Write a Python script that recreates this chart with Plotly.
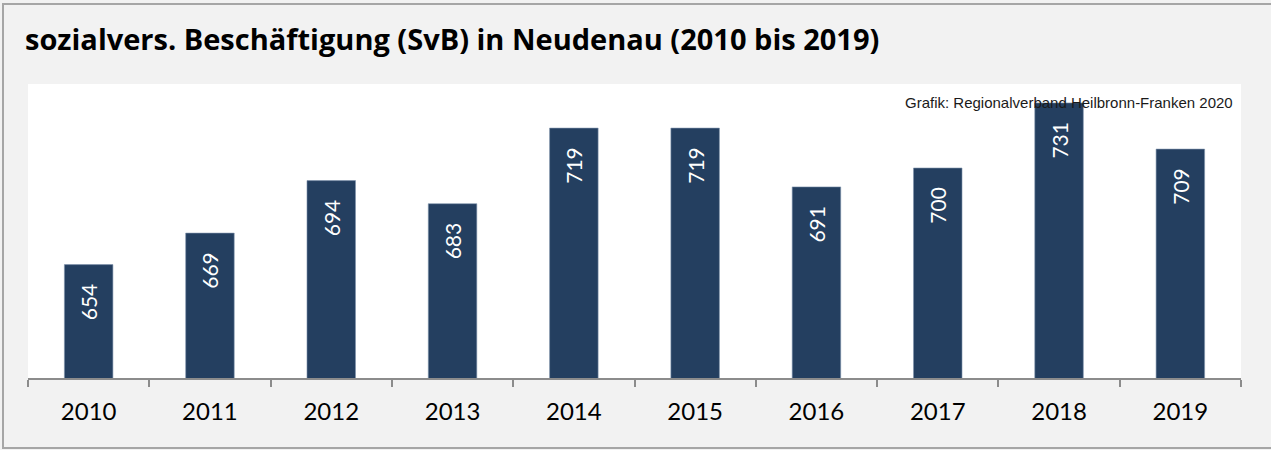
import plotly.graph_objects as go

years = ["2010", "2011", "2012", "2013", "2014", "2015", "2016", "2017", "2018", "2019"]
employees = [654, 669, 694, 683, 719, 719, 691, 700, 731, 709]

title_text = "sozialvers. Beschäftigung (SvB) in Neudenau (2010 bis 2019)"
source_text = "Grafik: Regionalverband Heilbronn-Franken 2020"

W, H = 1271, 450
ML, MR, MT, MB = 28, 30, 84, 72
pw = W - ML - MR
ph = H - MT - MB

def px_x(p):
    return (p - ML) / pw

def px_y(p):
    return (H - MB - p) / ph

fig = go.Figure()
fig.add_trace(go.Bar(
    x=years,
    y=employees,
    marker=dict(color="#243f60", line=dict(color="#7f93ad", width=0.6)),
    texttemplate="%{y}\u00a0\u00a0\u00a0",
    textposition="inside",
    insidetextanchor="end",
    textangle=-90,
    constraintext="none",
    textfont=dict(family="Lato", size=21, color="white"),
    hoverinfo="skip",
))

fig.update_layout(
    width=W, height=H,
    margin=dict(l=ML, r=MR, t=MT, b=MB, pad=0),
    paper_bgcolor="#f2f2f2",
    plot_bgcolor="white",
    bargap=0.6,
    showlegend=False,
    xaxis=dict(
        type="category",
        showline=True, linecolor="#8c8c8c", linewidth=2,
        ticks="outside", tickson="boundaries", ticklen=7, tickwidth=2, tickcolor="#8c8c8c",
        tickfont=dict(family="Lato", size=24, color="black"),
        ticklabelstandoff=11,
        showgrid=False, zeroline=False,
    ),
    yaxis=dict(
        range=[600, 740], visible=False, showgrid=False, zeroline=False,
    ),
    annotations=[
        dict(text="<b>" + title_text + "</b>", xref="paper", yref="paper",
             x=px_x(23), y=px_y(38), xanchor="left", yanchor="middle",
             showarrow=False, font=dict(family="Open Sans", size=29, color="black")),
        dict(text=source_text, xref="paper", yref="paper",
             x=px_x(1235), y=px_y(103), xanchor="right", yanchor="middle",
             showarrow=False, font=dict(family="Liberation Sans", size=15, color="#1a1a1a")),
    ],
    shapes=[
        dict(type="rect", xref="paper", yref="paper",
             x0=px_x(3), x1=px_x(1280), y0=px_y(448), y1=px_y(4),
             line=dict(color="#a6a6a6", width=2), fillcolor="rgba(0,0,0,0)", layer="below"),
    ],
)

fig.write_html("out.html", config={"displayModeBar": False},
               post_script="document.body.style.margin='0';document.body.style.overflow='hidden';")
